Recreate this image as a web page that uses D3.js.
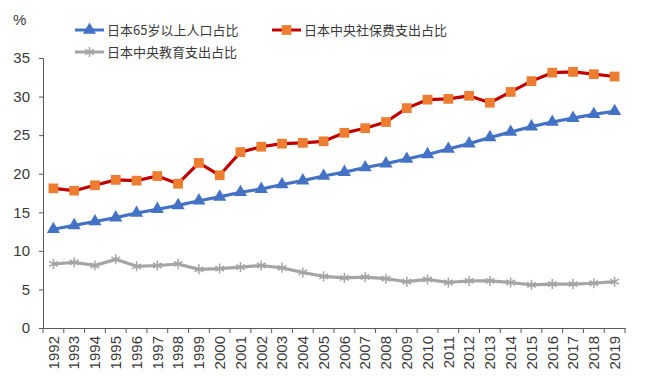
<!DOCTYPE html>
<html>
<head>
<meta charset="utf-8">
<script src="https://cdn.jsdelivr.net/npm/d3@7"></script>
<style>
	body { margin: 0; background: #fff; }
	svg { display: block; }
	text { fill: #3a3a3a; }
</style>
</head>
<body>
<div id="chart"></div>
<script>
const years = d3.range(1992, 2020).map(String);

// 日本65岁以上人口占比
const aged = [12.8, 13.3, 13.8, 14.3, 14.9, 15.4, 15.9, 16.5, 17.0, 17.6, 18.0, 18.6, 19.1, 19.7,
	20.2, 20.8, 21.3, 21.9, 22.5, 23.2, 23.9, 24.7, 25.4, 26.1, 26.7, 27.2, 27.7, 28.1];
// 日本中央社保费支出占比
const social = [18.1, 17.8, 18.5, 19.2, 19.1, 19.7, 18.7, 21.4, 19.8, 22.8, 23.5, 23.9, 24.0, 24.2,
	25.3, 25.9, 26.7, 28.5, 29.6, 29.7, 30.1, 29.2, 30.6, 32.0, 33.1, 33.2, 32.9, 32.6];
// 日本中央教育支出占比
const edu = [8.3, 8.5, 8.1, 8.9, 8.0, 8.1, 8.3, 7.6, 7.7, 7.9, 8.1, 7.8, 7.2, 6.7,
	6.5, 6.6, 6.4, 6.0, 6.3, 5.9, 6.1, 6.1, 5.9, 5.6, 5.7, 5.7, 5.8, 6.0];

const yTicks = [0, 5, 10, 15, 20, 25, 30, 35];

const series = [
	{ name: "日本65岁以上人口占比", values: aged, line: "#4472C4", mark: "#4472C4", shape: "triangle" },
	{ name: "日本中央社保费支出占比", values: social, line: "#C00000", mark: "#ED7D31", shape: "square" },
	{ name: "日本中央教育支出占比", values: edu, line: "#A5A5A5", mark: "#A5A5A5", shape: "star" },
];

const width = 645, height = 387;
const svg = d3.select("#chart").append("svg").attr("width", width).attr("height", height);

const x = d3.scaleBand().domain(years).range([43, 625]);
const y = d3.scaleLinear().domain([0, 35]).range([328, 58]);

// axes
const yAxis = svg.append("g")
	.attr("transform", "translate(43,0)")
	.call(d3.axisLeft(y).tickValues(yTicks).tickSize(4).tickPadding(9));
yAxis.selectAll("text").attr("font-family", "Liberation Sans, Arial, sans-serif").attr("font-size", 15);

const xAxis = svg.append("g")
	.attr("transform", `translate(0,${y(0)})`)
	.call(d3.axisBottom(x).tickSize(0).tickPadding(0));
xAxis.selectAll(".tick text")
	.attr("font-family", "Liberation Sans, Arial, sans-serif")
	.attr("font-size", 15)
	.attr("transform", "rotate(-90)")
	.attr("text-anchor", "end")
	.attr("dx", "-8")
	.attr("dy", "0.35em")
	.attr("y", 0);
// category boundary ticks
xAxis.selectAll(".sep")
	.data(years.concat(["end"]))
	.join("line")
	.attr("class", "sep")
	.attr("x1", (d, i) => 43 + i * x.bandwidth())
	.attr("x2", (d, i) => 43 + i * x.bandwidth())
	.attr("y1", 0).attr("y2", 5);
svg.selectAll(".domain, .tick line, .sep").attr("stroke", "#595959").attr("stroke-width", 1);

svg.append("text").attr("x", 13).attr("y", 25)
	.attr("font-family", "Liberation Sans, Arial, sans-serif").attr("font-size", 15).text("%");

const cx = (d, i) => x(years[i]) + x.bandwidth() / 2;
const symbols = {
	triangle: d3.symbol(d3.symbolTriangle, 75),
	square: d3.symbol(d3.symbolSquare, 95),
	star: d3.symbol(d3.symbolAsterisk, 70),
};

series.forEach((s) => {
	const g = svg.append("g");
	g.append("path")
		.datum(s.values)
		.attr("fill", "none")
		.attr("stroke", s.line)
		.attr("stroke-width", 3.2)
		.attr("stroke-linejoin", "round")
		.attr("d", d3.line().x(cx).y((d) => y(d)));
	g.selectAll("path.m")
		.data(s.values)
		.join("path")
		.attr("class", "m")
		.attr("transform", (d, i) => `translate(${cx(d, i)},${y(d)})`)
		.attr("d", symbols[s.shape]())
		.attr("fill", s.mark)
		.attr("stroke", s.shape === "star" ? s.mark : "none")
		.attr("stroke-width", 1.5);
});

// legend
const legendPos = [[75, 30], [272, 30], [75, 52]];
series.forEach((s, i) => {
	const [lx, ly] = legendPos[i];
	const g = svg.append("g").attr("transform", `translate(${lx},${ly})`);
	g.append("line").attr("x1", 0).attr("x2", 29).attr("stroke", s.line).attr("stroke-width", 3);
	g.append("path").attr("transform", "translate(14.5,0)")
		.attr("d", symbols[s.shape]())
		.attr("fill", s.mark)
		.attr("stroke", s.shape === "star" ? s.mark : "none")
		.attr("stroke-width", 1.5);
	g.append("text").attr("x", 32).attr("dy", "0.35em")
		.attr("font-family", "Noto Sans CJK SC, sans-serif").attr("font-size", 13)
		.text(s.name);
});
</script>
</body>
</html>
